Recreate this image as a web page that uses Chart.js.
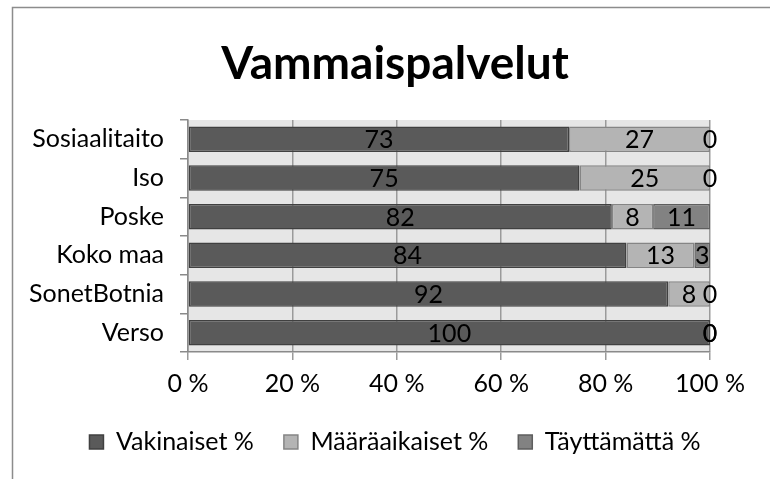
<!DOCTYPE html>
<html>
<head>
<meta charset="utf-8">
<script src="https://cdn.jsdelivr.net/npm/chart.js@4"></script>
<style>
  html, body { margin: 0; padding: 0; background: #ffffff; }
  #wrap { position: relative; width: 770px; height: 479px; }
</style>
</head>
<body>
<div id="wrap"><canvas id="c" width="770" height="479"></canvas></div>
<script>
const categories = ["Sosiaalitaito", "Iso", "Poske", "Koko maa", "SonetBotnia", "Verso"];
const vakinaiset = [73, 75, 82, 84, 92, 100];
const maaraaikaiset = [27, 25, 8, 13, 8, 0];
const tayttamatta = [0, 0, 11, 3, 0, 0];
const xTicks = [0, 20, 40, 60, 80, 100];
const seriesNames = ["Vakinaiset %", "Määräaikaiset %", "Täyttämättä %"];

const FONT = "Lato, 'Open Sans', sans-serif";
const rawSeries = [vakinaiset, maaraaikaiset, tayttamatta];
const totals = categories.map((_, i) => rawSeries.reduce((s, arr) => s + arr[i], 0));
const pct = arr => arr.map((v, i) => v / totals[i] * 100);

const fills = ["#5a5a5a", "#b4b4b4", "#828282"];
const borders = ["#404040", "#858585", "#5e5e5e"];

const framePlugin = {
  id: 'frame',
  beforeDraw(chart) {
    const ctx = chart.ctx, a = chart.chartArea;
    ctx.save();
    ctx.fillStyle = '#ffffff';
    ctx.fillRect(0, 0, chart.width, chart.height);
    ctx.strokeStyle = '#8c8c8c';
    ctx.lineWidth = 1.5;
    ctx.beginPath();
    ctx.moveTo(12.5, chart.height + 2);
    ctx.lineTo(12.5, 7.5);
    ctx.lineTo(chart.width + 2, 7.5);
    ctx.stroke();
    ctx.fillStyle = '#e6e6e6';
    ctx.fillRect(a.left, a.top, a.right - a.left, a.bottom - a.top);
    ctx.restore();
  }
};

const labelPlugin = {
  id: 'segLabels',
  afterDatasetsDraw(chart) {
    const ctx = chart.ctx;
    ctx.save();
    ctx.font = "25px " + FONT;
    ctx.fillStyle = '#000000';
    ctx.textAlign = 'center';
    ctx.textBaseline = 'middle';
    chart.data.datasets.forEach((ds, di) => {
      const meta = chart.getDatasetMeta(di);
      meta.data.forEach((el, i) => {
        const cx = (el.x + el.base) / 2;
        ctx.fillText(String(rawSeries[di][i]), cx, el.y + 1);
      });
    });
    ctx.restore();
  }
};

new Chart(document.getElementById('c'), {
  type: 'bar',
  data: {
    labels: categories,
    datasets: rawSeries.map((arr, k) => ({
      label: seriesNames[k],
      data: pct(arr),
      backgroundColor: fills[k],
      borderColor: borders[k],
      borderWidth: 1.5,
      borderSkipped: false,
      barPercentage: 0.66,
      categoryPercentage: 1.0
    }))
  },
  options: {
    indexAxis: 'y',
    responsive: false,
    animation: false,
    devicePixelRatio: 1,
    layout: { padding: { left: 20, right: 0, top: 0, bottom: 14.5 } },
    plugins: {
      title: {
        display: true,
        text: 'Vammaispalvelut',
        color: '#000000',
        font: { family: FONT, size: 46, weight: 'bold', lineHeight: 1.2 },
        padding: { top: 37, bottom: 27.8 }
      },
      legend: {
        display: true,
        position: 'bottom',
        labels: {
          color: '#000000',
          font: { family: FONT, size: 25, lineHeight: 0.6 },
          boxWidth: 14,
          boxHeight: 14,
          padding: 30
        }
      },
      tooltip: { enabled: false }
    },
    scales: {
      x: {
        stacked: true,
        min: 0,
        max: 100,
        afterBuildTicks(scale) { scale.ticks = xTicks.map(v => ({ value: v })); },
        ticks: {
          color: '#000000',
          font: { family: FONT, size: 25 },
          padding: 9,
          callback: v => v + ' %'
        },
        grid: { color: '#9a9a9a', lineWidth: 1.5, tickLength: 8, drawOnChartArea: true },
        border: { display: true, color: '#8a8a8a', width: 1.5 },
        afterFit(scale) { scale.height = 47.5; }
      },
      y: {
        stacked: true,
        ticks: {
          color: '#000000',
          font: { family: FONT, size: 25 },
          padding: 16
        },
        grid: { color: '#8a8a8a', lineWidth: 1.5, tickLength: 8, drawOnChartArea: false, offset: true },
        border: { display: true, color: '#8a8a8a', width: 1.5 },
        afterFit(scale) { scale.width = 168; }
      },
      yRight: {
        type: 'category',
        position: 'right',
        display: true,
        ticks: { display: false },
        grid: { display: false },
        border: { display: false },
        afterFit(scale) { scale.width = 60; }
      }
    }
  },
  plugins: [framePlugin, labelPlugin]
});
</script>
</body>
</html>
